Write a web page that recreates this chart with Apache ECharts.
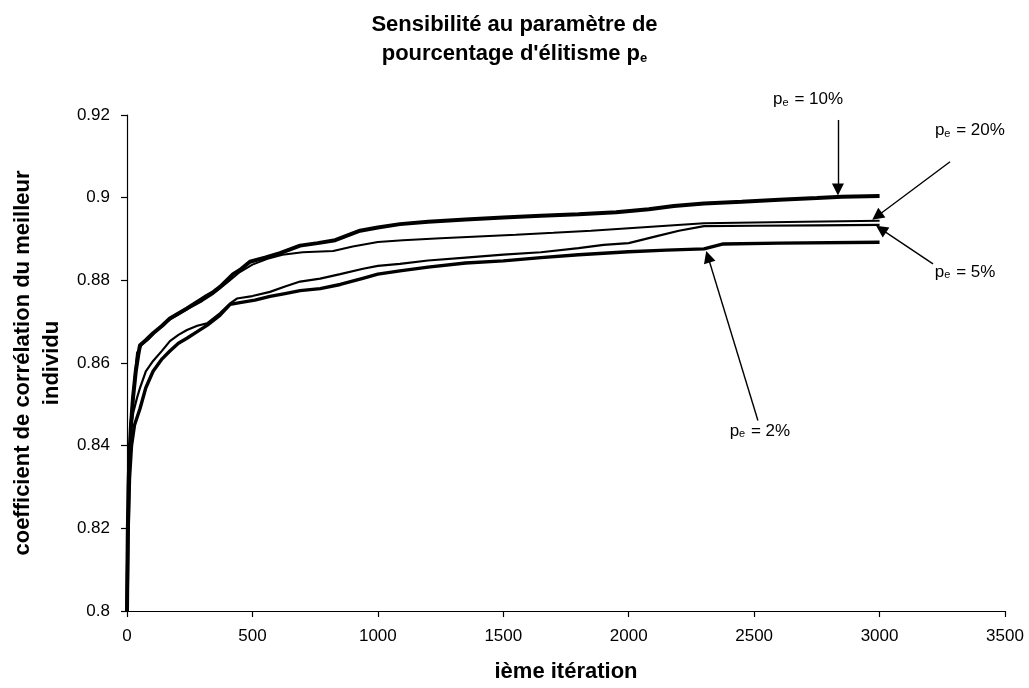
<!DOCTYPE html>
<html>
<head>
<meta charset="utf-8">
<script src="https://cdn.jsdelivr.net/npm/echarts@6/dist/echarts.min.js"></script>
<style>
  html, body { margin: 0; padding: 0; background: #fff; }
  #chart { width: 1029px; height: 688px; }
</style>
</head>
<body>
<div id="chart"></div>
<script>
// Best-individual correlation coefficient vs. iteration, one curve per elitism rate p_e
const pe10 = [[0,0.800],[3,0.818],[6,0.830],[10,0.838],[16,0.845],[24,0.8516],[35,0.858],[45,0.862],[52,0.8643],[75,0.8655],[104,0.8672],[140,0.869],[171,0.8708],[205,0.872],[239,0.8732],[280,0.8748],[319,0.8763],[345,0.8772],[371,0.8784],[423,0.8815],[450,0.8825],[490,0.8845],[550,0.8855],[610,0.8866],[690,0.8884],[760,0.889],[830,0.8897],[929,0.892],[1000,0.8928],[1088,0.8936],[1200,0.8942],[1350,0.8947],[1500,0.8952],[1650,0.8956],[1800,0.896],[1950,0.8965],[2080,0.8972],[2180,0.898],[2300,0.8986],[2450,0.899],[2600,0.8995],[2750,0.8999],[2850,0.9002],[3000,0.9004]];
const pe20 = [[0,0.800],[3,0.822],[8,0.835],[15,0.846],[25,0.853],[40,0.8625],[60,0.8645],[90,0.866],[120,0.868],[171,0.8705],[239,0.873],[300,0.875],[345,0.8768],[400,0.8795],[450,0.882],[500,0.8838],[560,0.8852],[620,0.8862],[700,0.8868],[822,0.8871],[900,0.8882],[1000,0.8893],[1100,0.8897],[1250,0.8902],[1400,0.8906],[1550,0.891],[1700,0.8915],[1850,0.892],[2000,0.8926],[2150,0.8932],[2300,0.8938],[2500,0.894],[2700,0.8942],[3000,0.8944]];
const pe5 = [[0,0.800],[3,0.815],[8,0.830],[14,0.8437],[25,0.848],[40,0.8516],[52,0.854],[75,0.858],[104,0.8605],[140,0.863],[171,0.8653],[205,0.8668],[239,0.868],[280,0.869],[319,0.8696],[370,0.872],[411,0.8744],[438,0.8756],[500,0.8762],[570,0.8772],[630,0.8785],[690,0.8797],[770,0.8804],[850,0.8815],[941,0.8828],[1000,0.8835],[1088,0.884],[1200,0.8848],[1350,0.8855],[1500,0.8862],[1650,0.8868],[1800,0.8878],[1900,0.8886],[2000,0.889],[2100,0.8905],[2200,0.892],[2300,0.8931],[2500,0.8932],[2750,0.8933],[3000,0.8934]];
const pe2 = [[0,0.800],[4,0.818],[10,0.832],[18,0.840],[30,0.845],[52,0.849],[75,0.854],[104,0.858],[140,0.861],[171,0.8629],[205,0.8648],[239,0.866],[280,0.8676],[319,0.8691],[370,0.8715],[411,0.8742],[450,0.8746],[510,0.8752],[570,0.8761],[630,0.8768],[690,0.8775],[770,0.878],[850,0.879],[940,0.8805],[1000,0.8815],[1088,0.8823],[1200,0.8832],[1350,0.8842],[1500,0.8847],[1650,0.8855],[1800,0.8862],[2000,0.8869],[2150,0.8873],[2300,0.8876],[2377,0.8888],[2600,0.889],[3000,0.8892]];

// Callouts: rate label, label anchor [iteration, value], arrow tail and arrow head centre
const calloutRates = ['10%', '20%', '5%', '2%'];
const calloutLabelAt = [[2715, 0.9241], [3360, 0.9166], [3341, 0.8823], [2523, 0.8439]];
const calloutArrowFrom = [[2834, 0.9188], [3281, 0.9087], [3213, 0.8840], [2515, 0.8461]];
const calloutArrowTo = [[2834, 0.9020], [2990, 0.8955], [3006, 0.8924], [2316, 0.8857]];

const FONT = '"Liberation Sans", Arial, Helvetica, sans-serif';

const chart = echarts.init(document.getElementById('chart'), null, { renderer: 'canvas' });

function curve(name, data, width) {
  return {
    name: name,
    type: 'line',
    data: data,
    showSymbol: false,
    symbol: 'none',
    lineStyle: { color: '#000', width: width },
    emphasis: { disabled: true },
    silent: true
  };
}

const subRich = {
  p: { fontFamily: FONT, fontSize: 17, color: '#000', lineHeight: 20, verticalAlign: 'bottom' },
  s: { fontFamily: FONT, fontSize: 11, color: '#000', lineHeight: 11, verticalAlign: 'bottom', padding: [0, 1, 0, 0] },
  t: { fontFamily: FONT, fontSize: 17, color: '#000', lineHeight: 20, verticalAlign: 'bottom' }
};

const option = {
  animation: false,
  backgroundColor: '#fff',
  title: {
    text: 'Sensibilité au paramètre de\n{b|pourcentage d\'élitisme p}{sb|e}',
    left: 'center',
    top: 6,
    textStyle: {
      fontFamily: FONT, fontSize: 22, fontWeight: 'bold', color: '#000', lineHeight: 27,
      rich: {
        b: { fontFamily: FONT, fontSize: 22, fontWeight: 'bold', color: '#000', lineHeight: 27, verticalAlign: 'bottom' },
        sb: { fontFamily: FONT, fontSize: 13, fontWeight: 'bold', color: '#000', lineHeight: 13, verticalAlign: 'bottom' }
      }
    }
  },
  grid: { left: 127, right: 24, top: 115, bottom: 73, containLabel: false },
  xAxis: {
    type: 'value',
    min: 0, max: 3500, interval: 500,
    name: 'ième itération',
    nameLocation: 'middle',
    nameGap: 50,
    nameTextStyle: { fontFamily: FONT, fontSize: 22, fontWeight: 'bold', color: '#000' },
    axisLine: { show: true, onZero: false, lineStyle: { color: '#000', width: 1.2 } },
    axisTick: { show: true, inside: false, length: 6, lineStyle: { color: '#000', width: 1.2 } },
    axisLabel: { fontFamily: FONT, fontSize: 17, color: '#000', margin: 17, formatter: (v) => String(v) },
    splitLine: { show: false }
  },
  yAxis: {
    type: 'value',
    min: 0.8, max: 0.92, interval: 0.02,
    name: 'coefficient de corrélation du meilleur\nindividu',
    nameLocation: 'middle',
    nameRotate: 90,
    nameGap: 57,
    nameTextStyle: { fontFamily: FONT, fontSize: 22, fontWeight: 'bold', color: '#000', lineHeight: 29 },
    axisLine: { show: true, lineStyle: { color: '#000', width: 1.2 } },
    axisTick: { show: true, inside: false, length: 6, lineStyle: { color: '#000', width: 1.2 } },
    axisLabel: { fontFamily: FONT, fontSize: 17, color: '#000', margin: 17, formatter: (v) => String(+v.toFixed(2)) },
    splitLine: { show: false }
  },
  series: [
    curve('p_e = 2%', pe2, 3.4),
    curve('p_e = 5%', pe5, 2.2),
    curve('p_e = 20%', pe20, 2),
    curve('p_e = 10%', pe10, 4),
    {
      name: 'callouts',
      type: 'scatter',
      clip: false,
      silent: true,
      symbolSize: 0,
      itemStyle: { opacity: 1, color: '#000' },
      data: calloutLabelAt,
      label: {
        show: true,
        position: 'inside',
        color: '#000',
        opacity: 1,
        fontSize: 17,
        fontFamily: FONT,
        textBorderWidth: 0,
        formatter: (p) => '{p|p}{s|e}{t| = ' + calloutRates[p.dataIndex] + '}',
        rich: subRich
      },
      markLine: {
        silent: true,
        symbol: ['none', 'triangle'],
        symbolSize: 12,
        label: { show: false },
        lineStyle: { color: '#000', width: 1.4, type: 'solid', opacity: 1 },
        itemStyle: { color: '#000' },
        emphasis: { disabled: true },
        data: calloutRates.map((r, i) => [
          { coord: calloutArrowFrom[i] },
          { coord: calloutArrowTo[i] }
        ])
      }
    }
  ]
};

chart.setOption(option);
</script>
</body>
</html>
